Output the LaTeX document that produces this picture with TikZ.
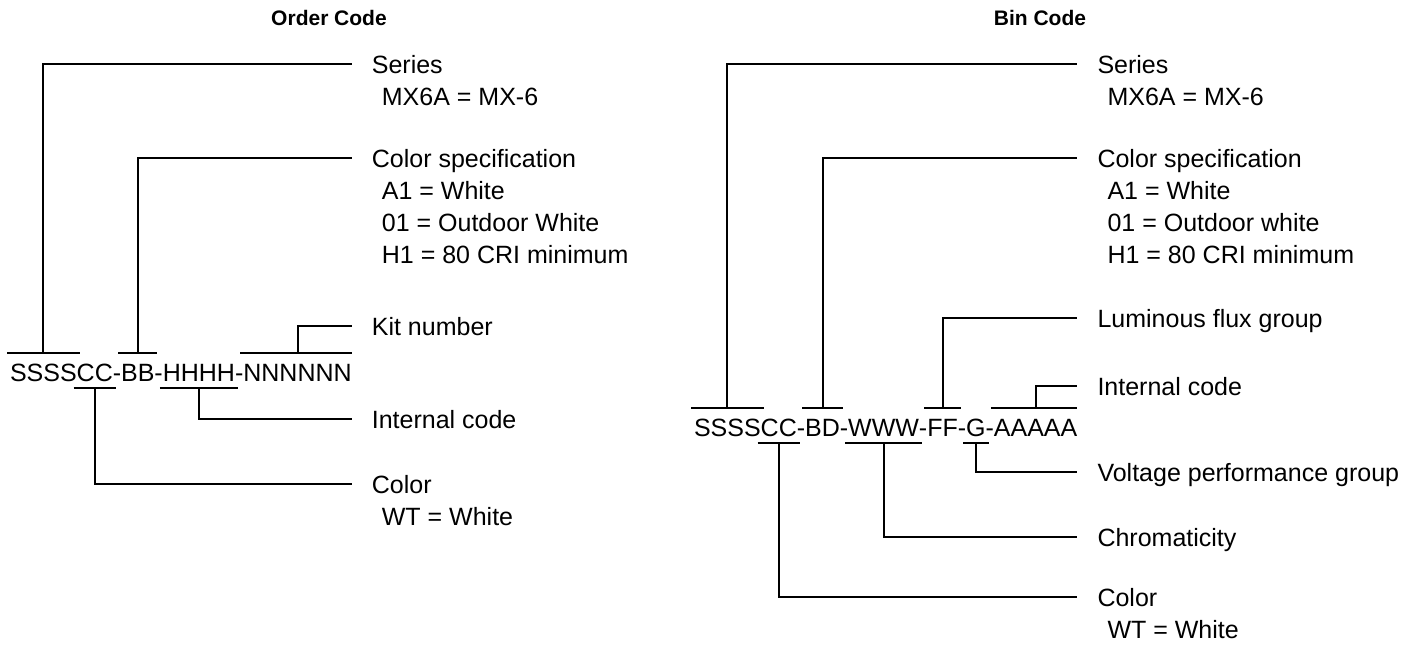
\documentclass[tikz,border=0pt]{standalone}
\usepackage{fontspec}
\setmainfont{Liberation Sans}
\usetikzlibrary{positioning,calc}

\begin{document}
\begin{tikzpicture}[x=1pt,y=-1pt,
	lead/.style={line width=2pt},
	seg/.style={inner sep=0pt,outer sep=0pt,text height=18pt,text depth=0pt,font=\fontsize{25}{32}\selectfont},
	lbl/.style={inner sep=0pt,anchor=west,text height=18pt,text depth=0pt,font=\fontsize{25}{32}\selectfont},
	sub/.style={inner sep=0pt,anchor=base west,font=\fontsize{25}{32}\selectfont},
	ttl/.style={inner sep=0pt,font=\fontsize{21}{25}\selectfont\bfseries}]
	\useasboundingbox (0,0) rectangle (1423,645);

	% order code
	\node[ttl] (oTitle) at (329,18) {Order Code};
	\node[seg,anchor=base west] (oS) at (10,381) {SSSS};
	\node[seg,right=0pt of oS] (oC) {CC};
	\node[seg,right=0pt of oC] (oD1) {-};
	\node[seg,right=0pt of oD1] (oB) {BB};
	\node[seg,right=0pt of oB] (oD2) {-};
	\node[seg,right=0pt of oD2] (oH) {HHHH};
	\node[seg,right=0pt of oH] (oD3) {-};
	\node[seg,right=0pt of oD3] (oN) {NNNNNN};

	\node[lbl] (oSer) at ($(oN.east |- 0,64)+(20,0)$) {Series};
	\node[sub] (oSer1) at ([xshift=10pt,yshift=-32pt]oSer.base west) {MX6A = MX-6};
	\node[lbl] (oSpec) at ($(oN.east |- 0,158)+(20,0)$) {Color specification};
	\node[sub] (oSpec1) at ([xshift=10pt,yshift=-32pt]oSpec.base west) {A1 = White};
	\node[sub] (oSpec2) at ([yshift=-32pt]oSpec1.base west) {01 = Outdoor White};
	\node[sub] (oSpec3) at ([yshift=-32pt]oSpec2.base west) {H1 = 80 CRI minimum};
	\node[lbl] (oKit) at ($(oN.east |- 0,326)+(20,0)$) {Kit number};
	\node[lbl] (oInt) at ($(oN.east |- 0,419)+(20,0)$) {Internal code};
	\node[lbl] (oCol) at ($(oN.east |- 0,484)+(20,0)$) {Color};
	\node[sub] (oCol1) at ([xshift=10pt,yshift=-32pt]oCol.base west) {WT = White};

	\draw[lead] ([xshift=-3pt,yshift=10pt]oS.north west) -- ([xshift=3pt,yshift=10pt]oS.north east);
	\draw[lead] ([xshift=-3pt,yshift=10pt]oB.north west) -- ([xshift=3pt,yshift=10pt]oB.north east);
	\draw[lead] ([xshift=-3pt,yshift=10pt]oN.north west) -- ([yshift=10pt]oN.north east);
	\draw[lead] ([xshift=-3pt,yshift=-7pt]oC.south west) -- ([xshift=3pt,yshift=-7pt]oC.south east);
	\draw[lead] ([xshift=-3pt,yshift=-7pt]oH.south west) -- ([xshift=3pt,yshift=-7pt]oH.south east);
	\draw[lead] ([yshift=10pt]oS.north) |- ([xshift=-20pt]oSer.west);
	\draw[lead] ([yshift=10pt]oB.north) |- ([xshift=-20pt]oSpec.west);
	\draw[lead] ([yshift=10pt]oN.north) |- ([xshift=-20pt]oKit.west);
	\draw[lead] ([yshift=-7pt]oH.south) |- ([xshift=-20pt]oInt.west);
	\draw[lead] ([yshift=-7pt]oC.south) |- ([xshift=-20pt]oCol.west);

	% bin code
	\node[ttl] (bTitle) at (1040,18) {Bin Code};
	\node[seg,anchor=base west] (bS) at (694,436) {SSSS};
	\node[seg,right=0pt of bS] (bC) {CC};
	\node[seg,right=0pt of bC] (bD1) {-};
	\node[seg,right=0pt of bD1] (bB) {BD};
	\node[seg,right=0pt of bB] (bD2) {-};
	\node[seg,right=0pt of bD2] (bW) {WWW};
	\node[seg,right=0pt of bW] (bD3) {-};
	\node[seg,right=0pt of bD3] (bF) {FF};
	\node[seg,right=0pt of bF] (bD4) {-};
	\node[seg,right=0pt of bD4] (bG) {G};
	\node[seg,right=0pt of bG] (bD5) {-};
	\node[seg,right=0pt of bD5] (bA) {AAAAA};

	\node[lbl] (bSer) at ($(bA.east |- 0,64)+(20,0)$) {Series};
	\node[sub] (bSer1) at ([xshift=10pt,yshift=-32pt]bSer.base west) {MX6A = MX-6};
	\node[lbl] (bSpec) at ($(bA.east |- 0,158)+(20,0)$) {Color specification};
	\node[sub] (bSpec1) at ([xshift=10pt,yshift=-32pt]bSpec.base west) {A1 = White};
	\node[sub] (bSpec2) at ([yshift=-32pt]bSpec1.base west) {01 = Outdoor white};
	\node[sub] (bSpec3) at ([yshift=-32pt]bSpec2.base west) {H1 = 80 CRI minimum};
	\node[lbl] (bLum) at ($(bA.east |- 0,318)+(20,0)$) {Luminous flux group};
	\node[lbl] (bInt) at ($(bA.east |- 0,386)+(20,0)$) {Internal code};
	\node[lbl] (bVolt) at ($(bA.east |- 0,472)+(20,0)$) {Voltage performance group};
	\node[lbl] (bChr) at ($(bA.east |- 0,537)+(20,0)$) {Chromaticity};
	\node[lbl] (bCol) at ($(bA.east |- 0,597)+(20,0)$) {Color};
	\node[sub] (bCol1) at ([xshift=10pt,yshift=-32pt]bCol.base west) {WT = White};

	\draw[lead] ([xshift=-3pt,yshift=10pt]bS.north west) -- ([xshift=3pt,yshift=10pt]bS.north east);
	\draw[lead] ([xshift=-3pt,yshift=10pt]bB.north west) -- ([xshift=3pt,yshift=10pt]bB.north east);
	\draw[lead] ([xshift=-3pt,yshift=10pt]bF.north west) -- ([xshift=3pt,yshift=10pt]bF.north east);
	\draw[lead] ([xshift=-3pt,yshift=10pt]bA.north west) -- ([yshift=10pt]bA.north east);
	\draw[lead] ([xshift=-3pt,yshift=-7pt]bC.south west) -- ([xshift=3pt,yshift=-7pt]bC.south east);
	\draw[lead] ([xshift=-3pt,yshift=-7pt]bW.south west) -- ([xshift=3pt,yshift=-7pt]bW.south east);
	\draw[lead] ([xshift=-3pt,yshift=-7pt]bG.south west) -- ([xshift=3pt,yshift=-7pt]bG.south east);
	\draw[lead] ([yshift=10pt]bS.north) |- ([xshift=-20pt]bSer.west);
	\draw[lead] ([yshift=10pt]bB.north) |- ([xshift=-20pt]bSpec.west);
	\draw[lead] ([yshift=10pt]bF.north) |- ([xshift=-20pt]bLum.west);
	\draw[lead] ([yshift=10pt]bA.north) |- ([xshift=-20pt]bInt.west);
	\draw[lead] ([yshift=-7pt]bG.south) |- ([xshift=-20pt]bVolt.west);
	\draw[lead] ([yshift=-7pt]bW.south) |- ([xshift=-20pt]bChr.west);
	\draw[lead] ([yshift=-7pt]bC.south) |- ([xshift=-20pt]bCol.west);
\end{tikzpicture}
\end{document}
